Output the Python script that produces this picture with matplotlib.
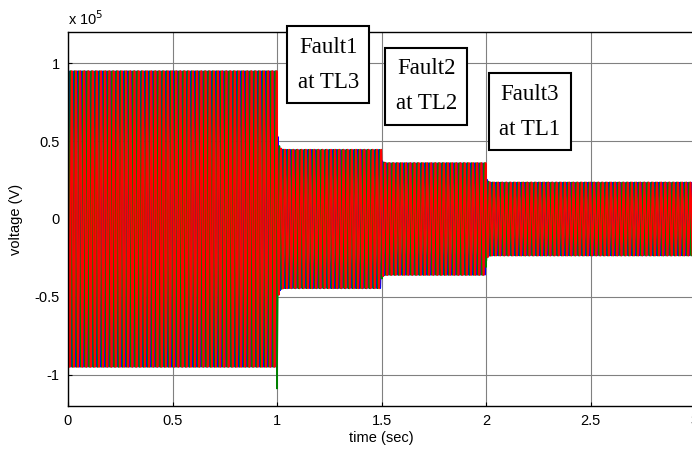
import numpy as np
import matplotlib
matplotlib.use("Agg")
from matplotlib import pyplot as plt

plt.rcParams["font.family"] = ["Liberation Sans", "DejaVu Sans"]

# fault switching instants (sec) and steady peak voltage in each interval (x 1e5 V)
seg_edges = [0.0, 1.0, 1.5, 2.0, 3.0]
seg_peaks = [0.95, 0.445, 0.36, 0.235]
fault_labels = ["Fault1\nat TL3", "Fault2\nat TL2", "Fault3\nat TL1"]
label_pos = [(1.245, 0.99), (1.715, 0.852), (2.21, 0.688)]
freq = 50.0
phase_colors = ["blue", (0, 0.5, 0), "red"]
phase_widths = [0.8, 1.1, 1.25]
phase_shift = [0.0, -2 * np.pi / 3, 2 * np.pi / 3]
# offset kick each phase gets when the first fault clears (x 1e5 V)
kick = [0.05, -0.55, 0.12]

t = np.arange(0, 3.0, 1 / 20000)
amp = np.zeros_like(t)
for i in range(len(seg_peaks)):
    m = (t >= seg_edges[i]) & (t < seg_edges[i + 1])
    amp[m] = seg_peaks[i]
    if i > 0:
        # short decay from previous level right after the switch
        dt = t[m] - seg_edges[i]
        amp[m] += (seg_peaks[i - 1] - seg_peaks[i]) * 0.35 * np.exp(-dt / 0.006)

fig = plt.figure(figsize=(6.92, 4.5), dpi=100)
ax = fig.add_axes([68 / 692, 44 / 450, 627 / 692, 374 / 450])

for k in range(3):
    v = amp * np.sin(2 * np.pi * freq * t + phase_shift[k])
    m = t >= seg_edges[1]
    v[m] += kick[k] * np.exp(-(t[m] - seg_edges[1]) / 0.002)
    ax.plot(t, v, color=phase_colors[k], lw=phase_widths[k])

ax.set_xlim(0, 3)
ax.set_ylim(-1.2, 1.2)
ax.set_xticks([0, 0.5, 1, 1.5, 2, 2.5, 3])
ax.set_xticklabels(["0", "0.5", "1", "1.5", "2", "2.5", "3"])
ax.set_yticks([-1, -0.5, 0, 0.5, 1])
ax.set_yticklabels(["-1", "-0.5", "0", "0.5", "1"])
ax.grid(True, color="0.5", lw=0.8)
ax.tick_params(direction="in", length=3, labelsize=10.5, colors="black", pad=6)
for s in ax.spines.values():
    s.set_linewidth(1.0)

ax.set_xlabel("time (sec)", fontsize=10.5, labelpad=2)
ax.set_ylabel("voltage (V)", fontsize=10.5, labelpad=8)
ax.text(0, 1.225, r"x 10$^5$", fontsize=10.5, ha="left", va="bottom",
        transform=ax.transData)

for txt, (x0, y0) in zip(fault_labels, label_pos):
    ax.text(x0, y0, txt, family="Liberation Serif", fontsize=16.5,
            ha="center", va="center", linespacing=1.9,
            bbox=dict(boxstyle="square,pad=0.45", fc="white", ec="black", lw=1.5),
            zorder=5)

fig.savefig("out.png", dpi=100)
